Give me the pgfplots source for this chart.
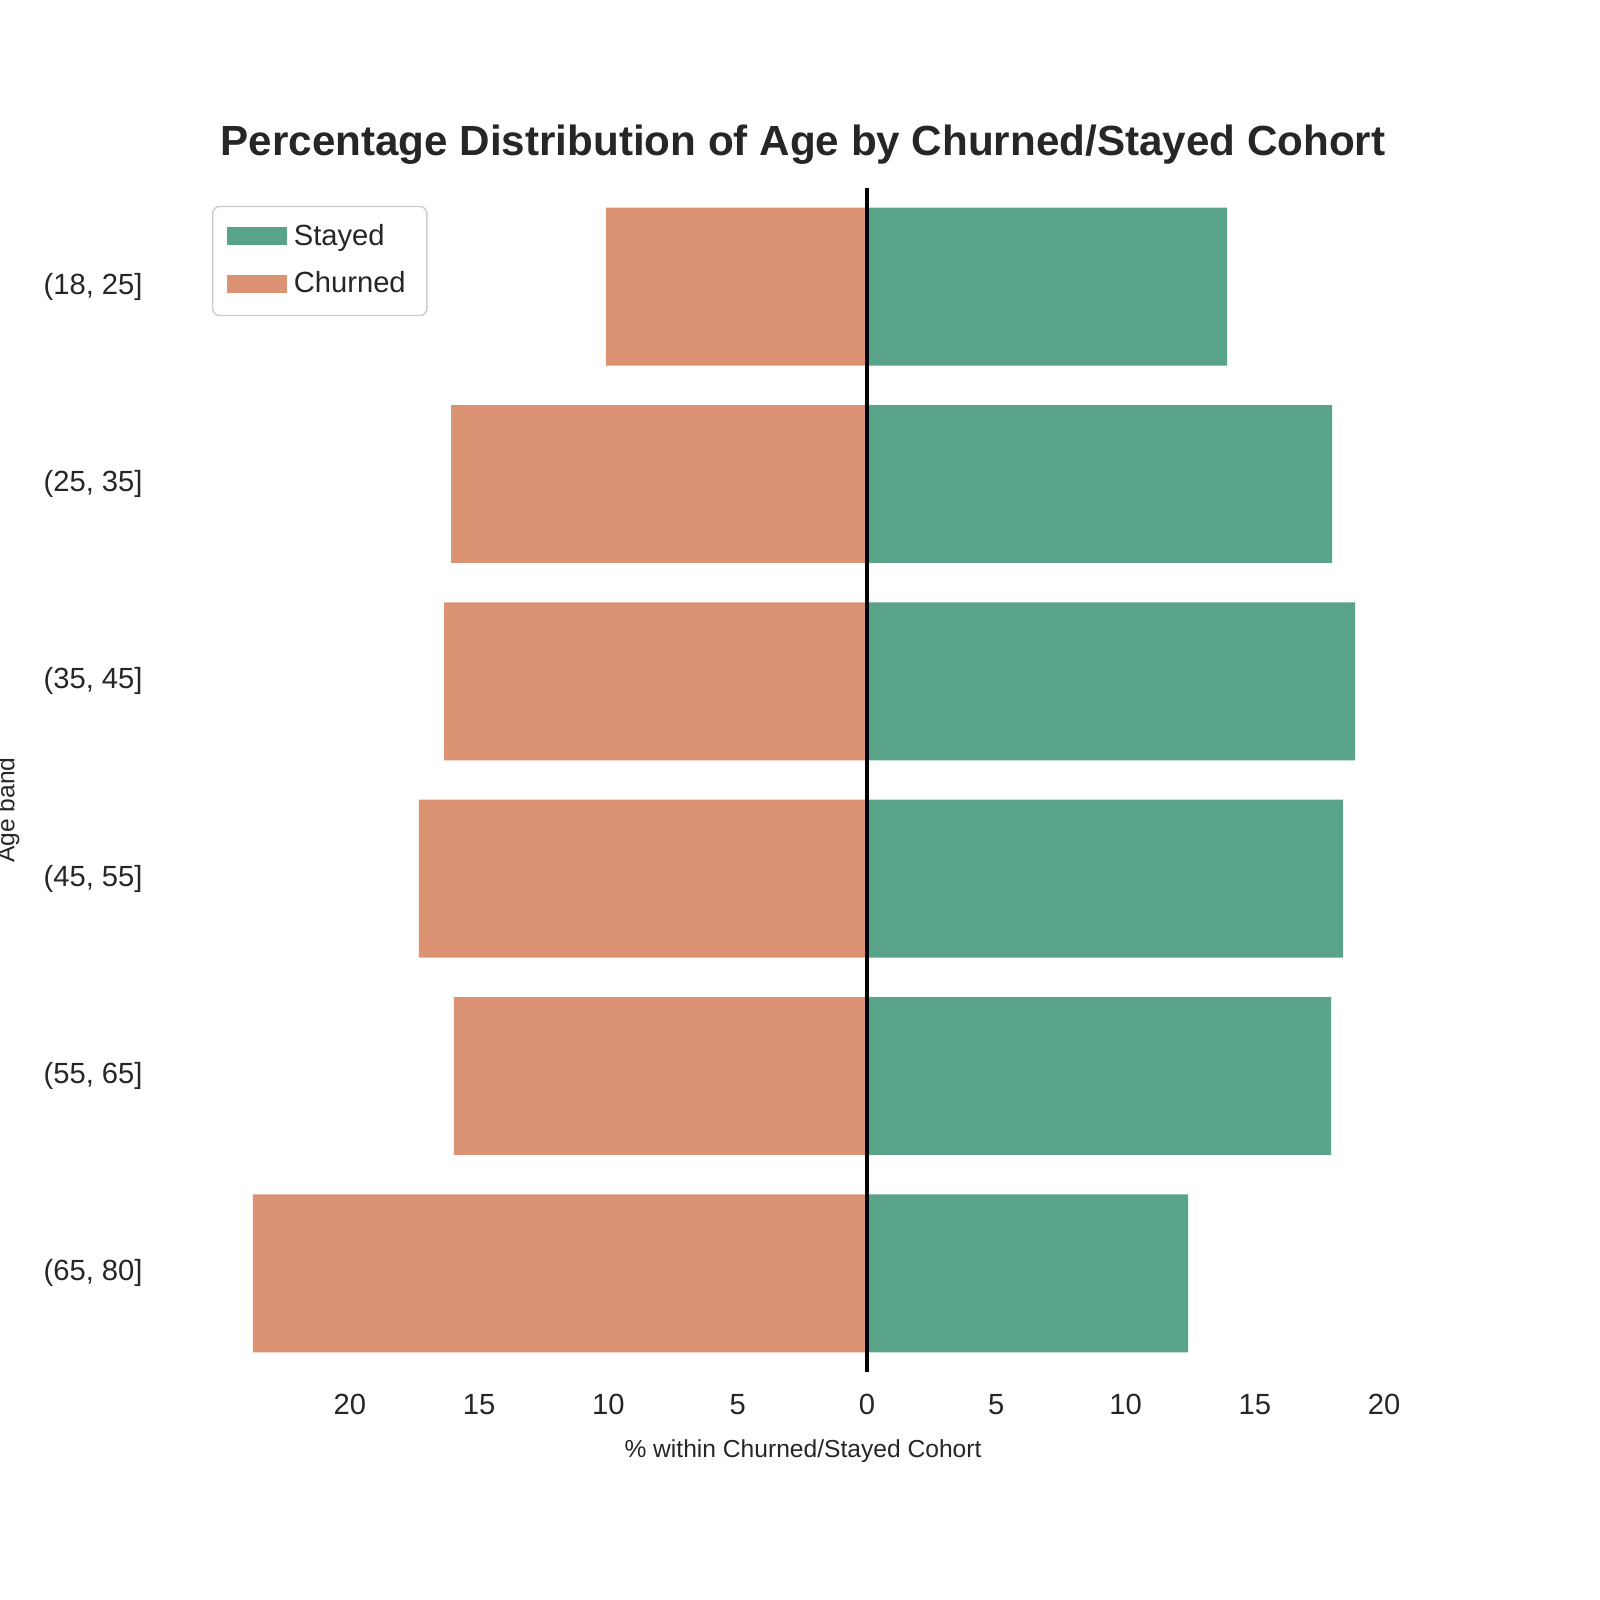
\documentclass[border=0pt]{standalone}
\usepackage{pgfplots}
\pgfplotsset{compat=1.18}
\usepackage{fontspec}
\setmainfont{Liberation Sans}
\definecolor{stay}{HTML}{59A389}
\definecolor{churn}{HTML}{DB9373}
\definecolor{txt}{HTML}{262626}
\begin{document}
\begin{tikzpicture}
\useasboundingbox (-2.0,-2.28) rectangle (14.0,13.72);
\begin{axis}[
  at={(0,0)}, anchor=south west,
  scale only axis, width=12.06cm, height=11.84cm,
  xbar, bar width=0.8, bar shift=0pt,
  y dir=reverse,
  xmin=-25.8, xmax=20.85, ymin=-0.5, ymax=5.5,
  axis line style={draw=none},
  tick style={draw=none},
  xtick={-20,-15,-10,-5,0,5,10,15,20},
  xticklabels={20,15,10,5,0,5,10,15,20},
  ytick={0,1,2,3,4,5},
  yticklabels={{(18, 25]},{(25, 35]},{(35, 45]},{(45, 55]},{(55, 65]},{(65, 80]}},
  /pgf/number format/assume math mode=true,
  ticklabel style={font=\fontsize{8.3}{10}\selectfont, text=txt},
  yticklabel style={xshift=-0.3cm},
  xticklabel style={yshift=-0.1cm},
  xlabel={\% within Churned/Stayed Cohort},
  ylabel={Age band},
  label style={font=\fontsize{7}{8.5}\selectfont, text=txt},
  ylabel style={at={(ticklabel cs:0.5)}, xshift=-0.3cm},
  title={\textbf{Percentage Distribution of Age by Churned/Stayed Cohort}},
  title style={font=\fontsize{12}{14}\selectfont, text=txt, yshift=-0.1cm},
  legend style={at={(0.01,0.985)}, anchor=north west, draw=black!20, rounded corners=2pt,
    font=\fontsize{8.3}{10}\selectfont, text=txt, row sep=2pt, inner xsep=4pt, inner ysep=3pt},
  legend cell align=left,
  legend image code/.code={\fill[#1, sharp corners] (0cm,-0.08cm) rectangle (0.6cm,0.1cm);},
]
\addplot[fill=stay, draw=none] coordinates {(13.93,0) (17.99,1) (18.88,2) (18.41,3) (17.95,4) (12.42,5)};
\addlegendentry{Stayed}
\addplot[fill=churn, draw=none] coordinates {(-10.1,0) (-16.09,1) (-16.36,2) (-17.33,3) (-15.98,4) (-23.75,5)};
\addlegendentry{Churned}
\draw[black, line width=1pt] (axis cs:0,-0.5) -- (axis cs:0,5.5);
\end{axis}
\end{tikzpicture}
\end{document}
